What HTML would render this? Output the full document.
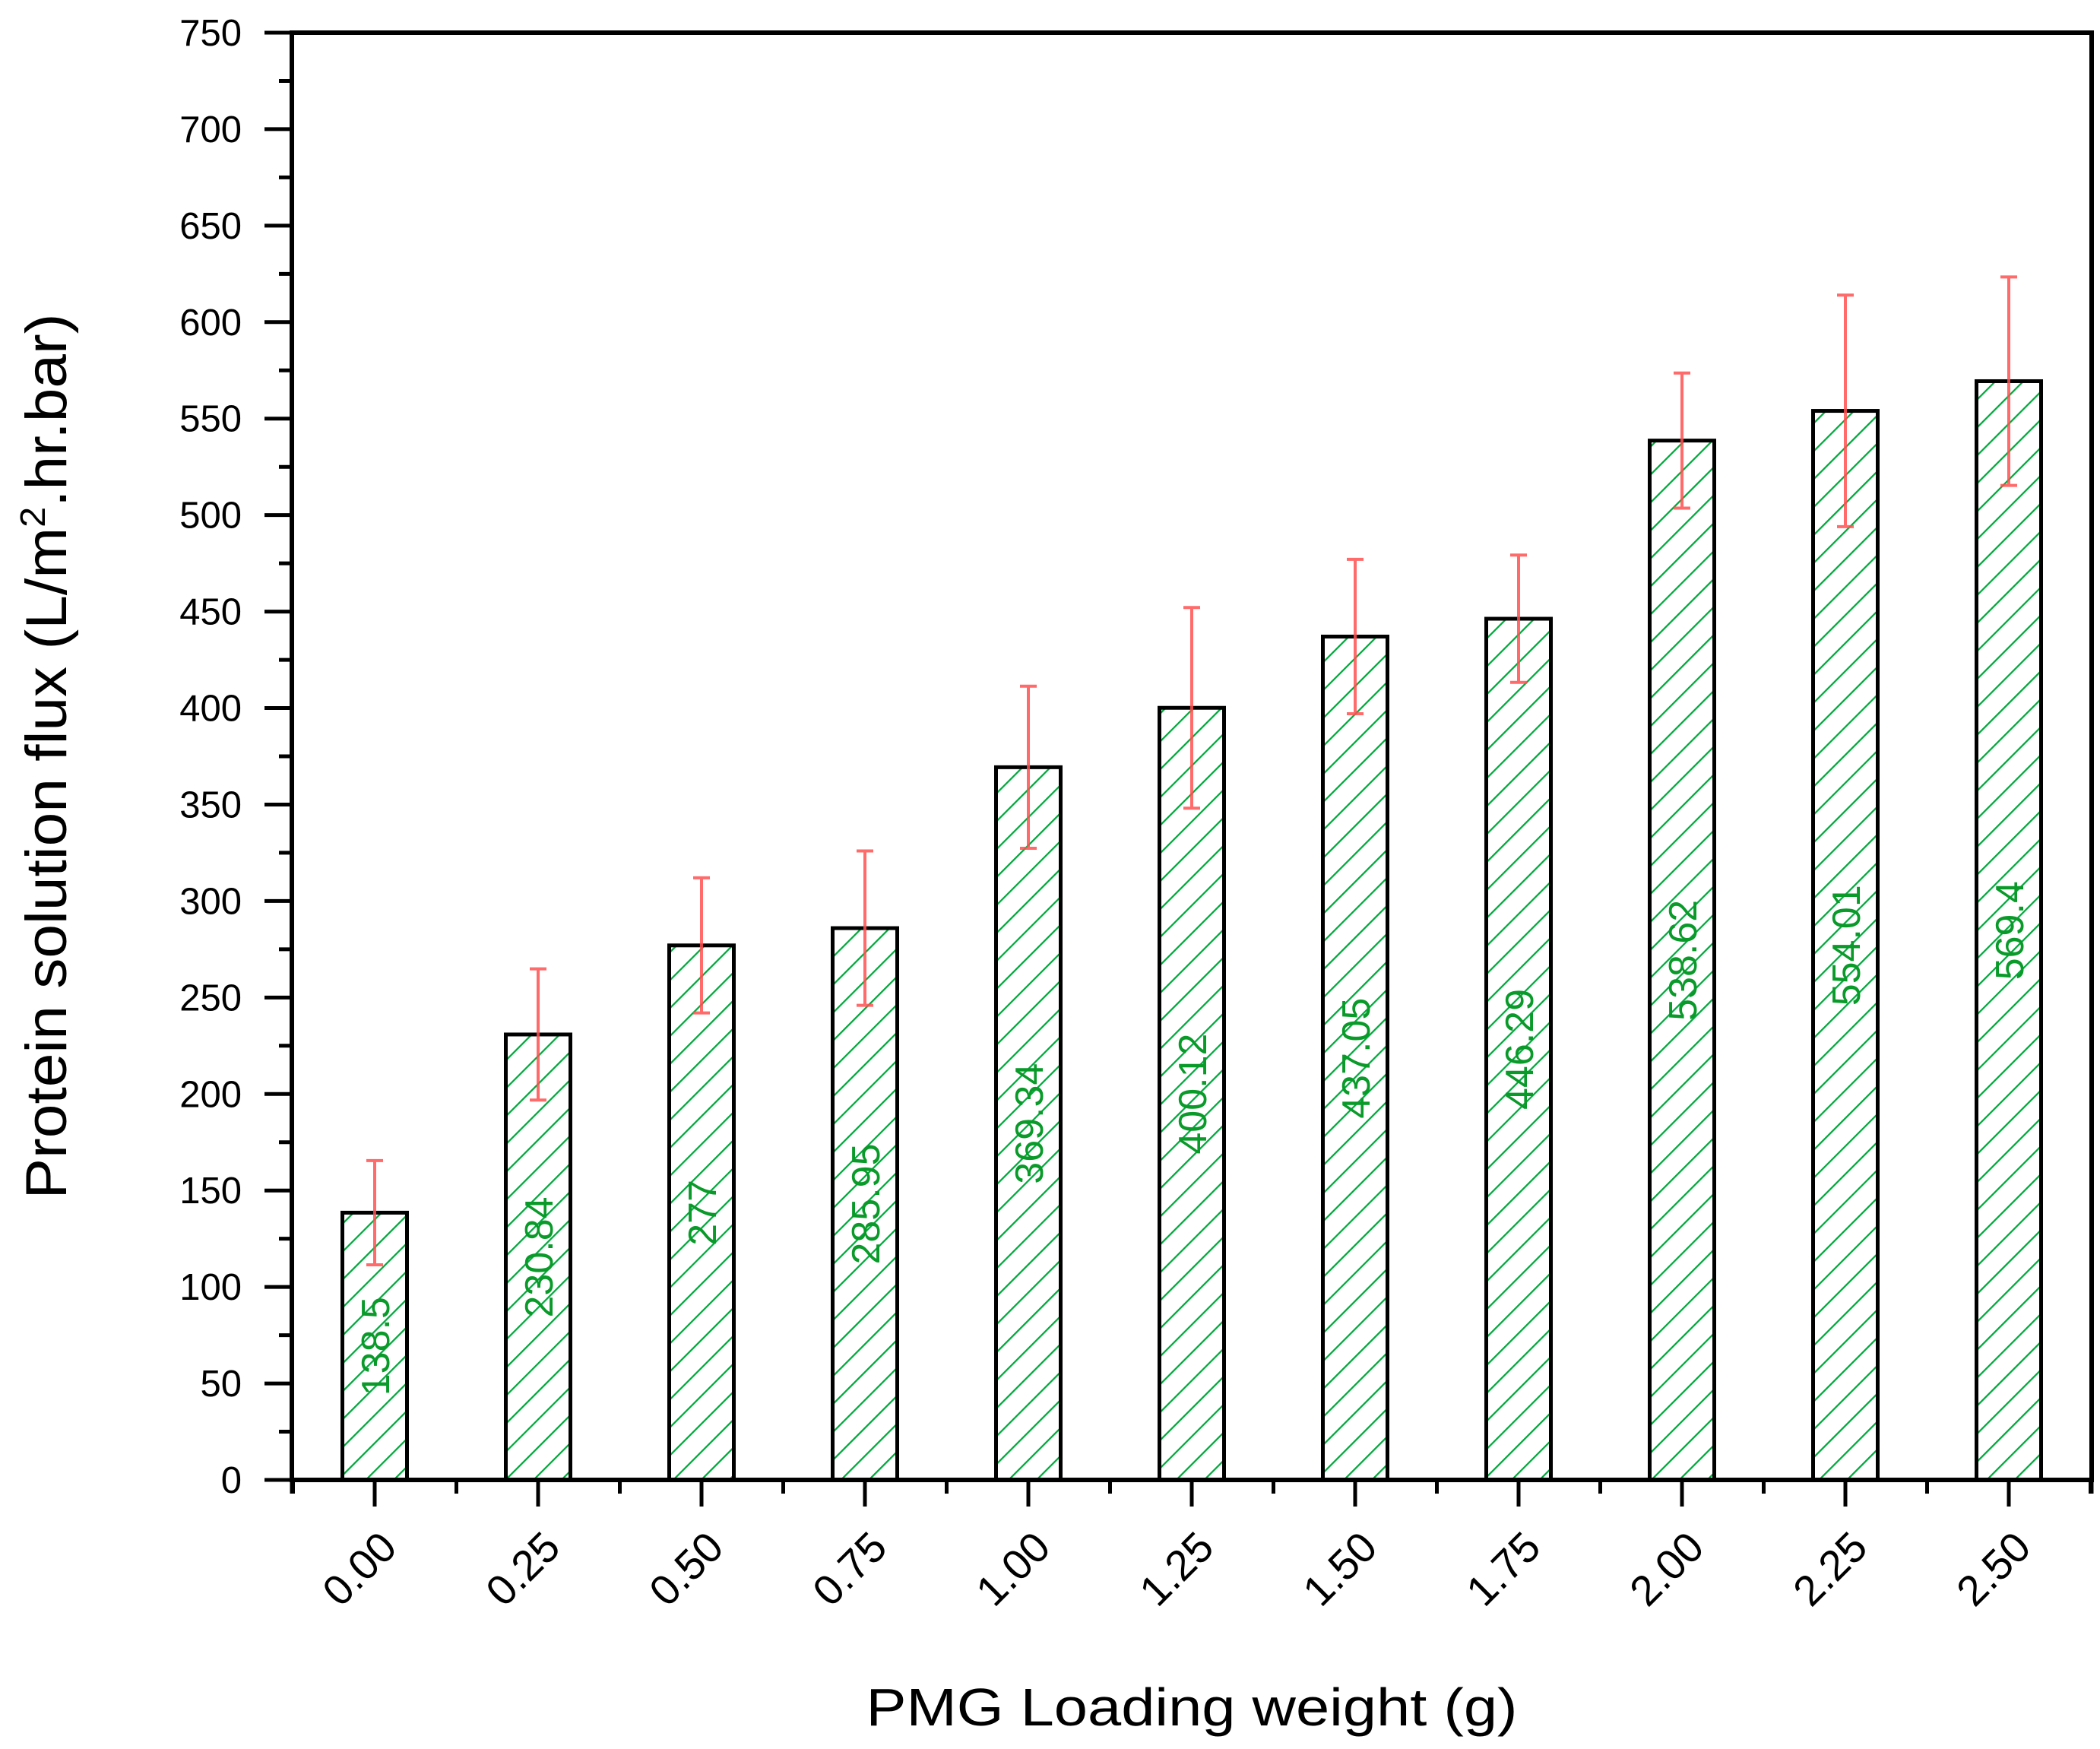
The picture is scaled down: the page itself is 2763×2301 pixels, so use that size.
<!DOCTYPE html>
<html><head><meta charset="utf-8"><style>
html,body{margin:0;padding:0;background:#fff;}
svg{display:block;font-family:"Liberation Sans",Arial,sans-serif;}
</style></head><body>
<svg id="chart" width="2763" height="2301" viewBox="0 0 2763 2301" xmlns="http://www.w3.org/2000/svg">
<defs>
<pattern id="hatch" patternUnits="userSpaceOnUse" width="26" height="26" patternTransform="rotate(45)">
<line x1="0" y1="0" x2="0" y2="26" stroke="#00a83c" stroke-width="4.5"/>
</pattern>
</defs>
<g id="plot"></g>
<text transform="translate(87,995) rotate(-90)" text-anchor="middle" font-size="76" textLength="1165" lengthAdjust="spacingAndGlyphs">Protein solution flux (L/m<tspan dy="-28" font-size="46">2</tspan><tspan dy="28">.hr.bar)</tspan></text>
<text x="1568" y="2270" text-anchor="middle" font-size="70" textLength="857" lengthAdjust="spacingAndGlyphs">PMG Loading weight (g)</text>
</svg>
<script>
const categories = ["0.00","0.25","0.50","0.75","1.00","1.25","1.50","1.75","2.00","2.25","2.50"];
const values = [138.5,230.84,277,285.95,369.34,400.12,437.05,446.29,538.62,554.01,569.4];
const errors = [27,34,35,40,42,52,40,33,35,60,54];
const valueLabels = ["138.5","230.84","277","285.95","369.34","400.12","437.05","446.29","538.62","554.01","569.4"];
const yTicks = [0,50,100,150,200,250,300,350,400,450,500,550,600,650,700,750];

const NS = "http://www.w3.org/2000/svg";
const L = 384, R = 2752, T = 43, B = 1947;
const yMax = 750;
const y = v => B - (v / yMax) * (B - T);
const x0 = 493, step = 215;
const x = i => x0 + i * step;
const barW = 85;
const g = document.getElementById('plot');
function mk(tag, attrs) { const e = document.createElementNS(NS, tag); for (const k in attrs) e.setAttribute(k, attrs[k]); g.appendChild(e); return e; }

values.forEach((v, i) => {
  const cx = x(i);
  const r = mk('rect', {x: cx - barW/2, y: y(v), width: barW, height: B - y(v), fill: 'url(#hatch)', stroke: '#000', 'stroke-width': 5});
  
  
  const lt = mk('text', {transform: `translate(${cx + 19},${y(v/2)}) rotate(-90)`, 'text-anchor': 'middle', 'font-size': 52, fill: '#0a9a2a'});
  lt.textContent = valueLabels[i];
  
  
  const eb = mk('path', {d: `M${cx},${y(v + errors[i])}V${y(v - errors[i])}M${cx-11},${y(v + errors[i])}H${cx+11}M${cx-11},${y(v - errors[i])}H${cx+11}`, stroke: '#ff5050', 'stroke-opacity': 0.85, 'stroke-width': 4, fill: 'none'});
  
  
  const tk = mk('line', {x1: cx, y1: B, x2: cx, y2: B + 35, stroke: '#000', 'stroke-width': 5});
  
  
  const tl = mk('text', {transform: `translate(${cx + 32},${B + 92}) rotate(-45)`, 'text-anchor': 'end', 'font-size': 56});
  tl.textContent = categories[i];
  
  
});
for (let i = -0.5; i <= categories.length; i += 1) {
  const mx = x(i);
  if (mx < L || mx > R) continue;
  const m = mk('line', {x1: mx, y1: B, x2: mx, y2: B + 18, stroke: '#000', 'stroke-width': 5});
  
  
}
[L, R].forEach(ex => {
  const lm = mk('line', {x1: ex, y1: B, x2: ex, y2: B + 18, stroke: '#000', 'stroke-width': 5});
  
  
});

yTicks.forEach((t, i) => {
  const ty = y(t);
  const tk = mk('line', {x1: L - 36, y1: ty, x2: L, y2: ty, stroke: '#000', 'stroke-width': 5});
  
  
  const tl = mk('text', {x: L - 66, y: ty + 17, 'text-anchor': 'end', 'font-size': 49});
  tl.textContent = t;
  
  
  if (i < yTicks.length - 1) {
    const my = y((t + yTicks[i+1]) / 2);
    const m = mk('line', {x1: L - 17, y1: my, x2: L, y2: my, stroke: '#000', 'stroke-width': 5});
    
    
  }
});
const frame = mk('rect', {x: L, y: T, width: R - L, height: B - T, fill: 'none', stroke: '#000', 'stroke-width': 6});


</script>
</body></html>
